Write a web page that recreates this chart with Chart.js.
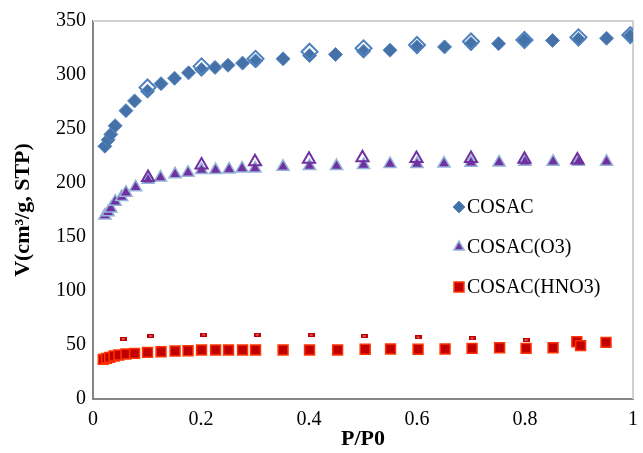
<!DOCTYPE html>
<html>
<head>
<meta charset="utf-8">
<script src="https://cdn.jsdelivr.net/npm/chart.js@4.4.0/dist/chart.umd.min.js"></script>
<style>
  body { margin: 0; background: #fff; }
</style>
</head>
<body>
<canvas id="isotherm" width="643" height="453"></canvas>
<script>
// tick labels
const xTicks = [0, 0.2, 0.4, 0.6, 0.8, 1];
const yTicks = [0, 50, 100, 150, 200, 250, 300, 350];

// COSAC - adsorption / desorption
const cosacAdsP = [0.022, 0.028, 0.033, 0.041, 0.061, 0.077, 0.101, 0.126, 0.151, 0.177, 0.201, 0.226, 0.250, 0.277, 0.301, 0.352, 0.401, 0.449, 0.501, 0.550, 0.600, 0.651, 0.700, 0.751, 0.799, 0.851, 0.899, 0.951, 0.995];
const cosacAdsV = [234, 240, 245, 253, 267, 276, 285, 292, 297, 302, 305, 307, 309, 311, 313, 315, 318, 319, 322, 323, 326, 326, 329, 329, 332, 332, 333, 334, 336];
const cosacDesP = [0.101, 0.201, 0.301, 0.401, 0.501, 0.600, 0.700, 0.799, 0.899, 0.995];
const cosacDesV = [288.5, 308, 315, 321.6, 324.7, 327.8, 331, 332.4, 334.9, 337];

// COSAC(O3)
const o3AdsP = [0.022, 0.028, 0.033, 0.041, 0.053, 0.061, 0.079, 0.102, 0.125, 0.152, 0.176, 0.201, 0.227, 0.252, 0.276, 0.300, 0.352, 0.401, 0.451, 0.501, 0.550, 0.600, 0.650, 0.700, 0.752, 0.800, 0.852, 0.899, 0.951];
const o3AdsV = [170, 173, 176.5, 182.7, 187, 191, 196, 203, 205, 208, 209.5, 212, 212, 212.6, 213.5, 213.5, 215, 215.7, 215.7, 216.7, 217.6, 217.6, 218, 218.8, 219, 219.7, 219.7, 219.7, 219.7];
const o3DesP = [0.102, 0.201, 0.300, 0.400, 0.499, 0.599, 0.700, 0.799, 0.897];
const o3DesV = [205, 216.7, 219.7, 221.9, 223.4, 222.8, 222.8, 222, 221.3];

// COSAC(HNO3)
const hno3AdsP = [0.019, 0.025, 0.031, 0.039, 0.048, 0.061, 0.077, 0.101, 0.126, 0.152, 0.176, 0.201, 0.227, 0.251, 0.277, 0.301, 0.352, 0.401, 0.453, 0.504, 0.551, 0.602, 0.652, 0.702, 0.753, 0.802, 0.852, 0.896, 0.903, 0.950];
const hno3AdsV = [36.7, 37.6, 38.5, 39.8, 40.7, 41.7, 42.2, 43.2, 43.8, 44.4, 44.7, 45.4, 45.4, 45.4, 45.4, 45.4, 45.4, 45.4, 45.4, 46, 46.3, 46, 46.3, 46.9, 47.5, 46.9, 47.5, 53, 49.4, 52.4];
const hno3DesP = [0.056, 0.107, 0.205, 0.304, 0.404, 0.502, 0.602, 0.702, 0.802];
const hno3DesV = [55.5, 58.3, 59.5, 59.5, 59.3, 58.3, 57.1, 56.2, 54.6];

const seriesNames = ['COSAC', 'COSAC(O3)', 'COSAC(HNO3)'];

const toPoints = (xs, ys) => xs.map((x, i) => ({ x: x, y: ys[i] }));

// small flat marker used for the HNO3 desorption points
const dash = document.createElement('canvas');
dash.width = 7; dash.height = 4;
let dctx = dash.getContext('2d');
dctx.fillStyle = '#C00000';
dctx.fillRect(0, 0, 7, 4);
dctx.fillStyle = '#F4A0A0';
dctx.fillRect(2, 1.5, 3, 1);

const FONT = "'Liberation Serif', 'Times New Roman', serif";

// legend drawn inside plot area, like the excel one
const innerLegend = {
    id: 'innerLegend',
    afterDatasetsDraw(chart) {
        const ctx = chart.ctx;
        const items = [0, 2, 4];
        const ys = [207, 247, 287];
        const radii = [6, 6, 7];
        items.forEach((di, i) => {
            const ds = chart.data.datasets[di];
            ctx.save();
            ctx.fillStyle = ds.pointBackgroundColor;
            ctx.strokeStyle = ds.pointBorderColor;
            ctx.lineWidth = ds.pointBorderWidth;
            Chart.helpers.drawPoint(ctx, {
                pointStyle: ds.pointStyle,
                radius: radii[i],
                borderWidth: ds.pointBorderWidth
            }, 459, ys[i]);
            ctx.font = '20px ' + FONT;
            ctx.textBaseline = 'middle';
            ctx.fillStyle = '#000';
            ctx.fillText(seriesNames[i], 467, ys[i] + 1);
            ctx.restore();
        });
    }
};

// light frame on top / right
const frame = {
    id: 'frame',
    beforeDatasetsDraw(chart) {
        const a = chart.chartArea;
        const ctx = chart.ctx;
        ctx.save();
        ctx.strokeStyle = '#D0D0D0';
        ctx.lineWidth = 2;
        ctx.beginPath();
        ctx.moveTo(a.left, a.top);
        ctx.lineTo(a.right, a.top);
        ctx.lineTo(a.right, a.bottom);
        ctx.stroke();
        ctx.restore();
    }
};

var ctx = document.getElementById('isotherm').getContext('2d');
var isothermChart = new Chart(ctx, {
    type: 'scatter',
    data: {
        datasets: [{
            label: seriesNames[0],
            data: toPoints(cosacAdsP, cosacAdsV),
            pointStyle: 'rectRot',
            pointRadius: 7,
            pointBackgroundColor: '#4472A8',
            pointBorderColor: '#5B87C0',
            pointBorderWidth: 1,
            order: 6
        }, {
            label: seriesNames[0] + ' des',
            data: toPoints(cosacDesP, cosacDesV),
            pointStyle: 'rectRot',
            pointRadius: 8,
            pointBackgroundColor: 'rgba(0,0,0,0)',
            pointBorderColor: '#4F81BD',
            pointBorderWidth: 2,
            order: 5
        }, {
            label: seriesNames[1],
            data: toPoints(o3AdsP, o3AdsV),
            pointStyle: 'triangle',
            pointRadius: 7,
            pointBackgroundColor: '#7030A0',
            pointBorderColor: '#95B3D7',
            pointBorderWidth: 1.5,
            order: 4
        }, {
            label: seriesNames[1] + ' des',
            data: toPoints(o3DesP, o3DesV),
            pointStyle: 'triangle',
            pointRadius: 7,
            pointBackgroundColor: 'rgba(0,0,0,0)',
            pointBorderColor: '#7030A0',
            pointBorderWidth: 2,
            order: 3
        }, {
            label: seriesNames[2],
            data: toPoints(hno3AdsP, hno3AdsV),
            pointStyle: 'rect',
            pointRadius: 7,
            pointBackgroundColor: '#C00000',
            pointBorderColor: '#FF3300',
            pointBorderWidth: 1.5,
            order: 2
        }, {
            label: seriesNames[2] + ' des',
            data: toPoints(hno3DesP, hno3DesV),
            pointStyle: dash,
            pointRadius: 4,
            order: 1
        }]
    },
    options: {
        responsive: false,
        animation: false,
        devicePixelRatio: 1,
        layout: { padding: { top: 21, right: 7, left: 0, bottom: 0 } },
        plugins: {
            legend: { display: false },
            tooltip: { enabled: false }
        },
        scales: {
            x: {
                type: 'linear',
                min: 0,
                max: 1,
                afterBuildTicks: scale => { scale.ticks = xTicks.map(v => ({ value: v })); },
                afterFit: scale => {
                    scale.height = 54;
                    scale.paddingLeft = 0;
                    scale.paddingRight = 0;
                },
                grid: { display: false, drawTicks: false },
                border: { color: '#868686', width: 2 },
                ticks: {
                    color: '#000',
                    padding: 9,
                    autoSkip: false,
                    maxRotation: 0,
                    font: { family: FONT, size: 20 },
                    callback: v => String(v)
                },
                title: {
                    display: true,
                    text: 'P/P0',
                    color: '#000',
                    padding: { top: 0, bottom: 0 },
                    font: { family: FONT, size: 22, weight: 'bold' }
                }
            },
            y: {
                type: 'linear',
                min: 0,
                max: 350,
                afterBuildTicks: scale => { scale.ticks = yTicks.map(v => ({ value: v })); },
                afterFit: scale => {
                    scale.width = 93;
                    scale.paddingTop = 0;
                    scale.paddingBottom = 0;
                },
                grid: { display: false, drawTicks: false },
                border: { color: '#868686', width: 2 },
                ticks: {
                    color: '#000',
                    padding: 7,
                    autoSkip: false,
                    font: { family: FONT, size: 20 }
                },
                title: {
                    display: true,
                    text: 'V(cm\u00B3/g, STP)',
                    color: '#000',
                    padding: { top: 10, bottom: 0 },
                    font: { family: FONT, size: 22, weight: 'bold' }
                }
            }
        }
    },
    plugins: [frame, innerLegend]
});
</script>
</body>
</html>
